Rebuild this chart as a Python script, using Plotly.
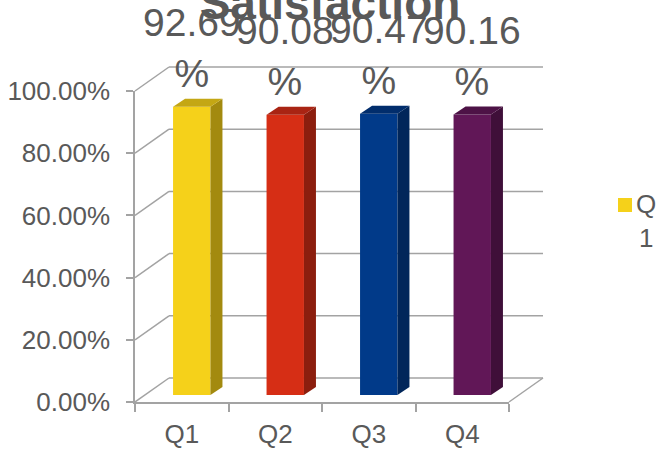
import plotly.graph_objects as go

# ---- data -------------------------------------------------------------
categories = ["Q1", "Q2", "Q3", "Q4"]
satisfaction = [92.69, 90.08, 90.47, 90.16]          # percent
y_ticks = [0, 20, 40, 60, 80, 100]
chart_title = "Satisfaction"
legend_label = "Q1"

# face colours of each column: front, right side, top
front_colors = ["#F5D11A", "#D62E15", "#013A89", "#611757"]
side_colors = ["#A38A0F", "#8C1E0E", "#01265A", "#3F0F39"]
top_colors = ["#C4A714", "#A92413", "#012D6C", "#4D1246"]

# ---- geometry of the pseudo-3D box (pixels) ----------------------------
W, H = 660, 449
FRONT_LEFT, FRONT_BOTTOM = 135, 402
PLANE_W, PLANE_H = 374, 311
BACK_DX, BACK_DY = 34, 24          # back wall offset from the front plane
BAR_DX, BAR_DY = 10, 7             # column front faces offset from the front plane
BAR_DEPTH_DX, BAR_DEPTH_DY = 12, 8 # column depth
BAR_WIDTH = 0.4

LINE = "#A3A3A3"
LINE_W = 1.5
TEXT = "#595959"
FONT = "Liberation Sans"

area_w = PLANE_W + BACK_DX
area_h = PLANE_H + BACK_DY
margin = dict(l=FRONT_LEFT, r=W - FRONT_LEFT - area_w,
              t=FRONT_BOTTOM - area_h, b=H - FRONT_BOTTOM, pad=0,
              autoexpand=False)


def dom(offset, span, total):
    return [offset / total, (offset + span) / total]


def px_x(px):
    return (px - FRONT_LEFT) / area_w


def px_y(py):
    return (FRONT_BOTTOM - py) / area_h


y_min, y_max = y_ticks[0], y_ticks[-1]
n = len(categories)
px_per_cat = PLANE_W / n
px_per_unit = PLANE_H / (y_max - y_min)


def y_frac(t):
    """position of value t along the value axis, as a fraction of its domain"""
    return (t - y_min) / (y_max - y_min)


fig = go.Figure()

# columns (front faces) on the x2/y2 plane
fig.add_trace(go.Bar(
    x=categories, y=satisfaction, xaxis="x2", yaxis="y2",
    width=BAR_WIDTH, marker=dict(color=front_colors, line=dict(width=0)),
    name=legend_label, showlegend=False, hoverinfo="skip",
))

shapes = []
wall = dict(color=LINE, width=LINE_W)
# lines spanning the whole box are measured from the column plane's domain,
# which keeps them unclipped and underneath the columns
box = dict(type="line", xref="x2 domain", yref="y2 domain",
           xsizemode="pixel", ysizemode="pixel", line=wall, layer="below")
to_back = (BACK_DX - BAR_DX, BACK_DY - BAR_DY)
to_front = (-BAR_DX, -BAR_DY)
for t in y_ticks:
    # back wall gridline
    shapes.append(dict(box, xanchor=0, yanchor=y_frac(t),
                       x0=to_back[0], x1=to_back[0] + PLANE_W,
                       y0=to_back[1], y1=to_back[1]))
    # left wall diagonal, from the front tick to the back wall
    if t + BACK_DY / px_per_unit <= y_max:
        shapes.append(dict(type="line", xref="x3", yref="y3",
                           xsizemode="pixel", ysizemode="pixel",
                           xanchor=-0.5, yanchor=t,
                           x0=0, y0=0, x1=BACK_DX, y1=BACK_DY,
                           line=wall, layer="below"))
    else:
        shapes.append(dict(box, xanchor=0, yanchor=y_frac(t),
                           x0=to_front[0], y0=to_front[1],
                           x1=to_back[0], y1=to_back[1]))
# floor: right edge
shapes.append(dict(box, xanchor=1, yanchor=y_frac(y_min),
                   x0=to_front[0], y0=to_front[1], x1=to_back[0], y1=to_back[1]))

# side and top faces of every column
ddx = BAR_DEPTH_DX / px_per_cat
ddy = BAR_DEPTH_DY / px_per_unit
for i, v in enumerate(satisfaction):
    xl, xr = i - BAR_WIDTH / 2, i + BAR_WIDTH / 2
    shapes.append(dict(
        type="path", xref="x2", yref="y2", layer="above", line=dict(width=0),
        fillcolor=side_colors[i],
        path=f"M{xr},0 L{xr + ddx},{ddy} L{xr + ddx},{v + ddy} L{xr},{v} Z"))
    shapes.append(dict(
        type="path", xref="x2", yref="y2", layer="above", line=dict(width=0),
        fillcolor=top_colors[i],
        path=f"M{xl},{v} L{xr},{v} L{xr + ddx},{v + ddy} L{xl + ddx},{v + ddy} Z"))

# legend key
shapes.append(dict(
    type="rect", xref="paper", yref="paper",
    x0=px_x(618), x1=px_x(632), y0=px_y(212), y1=px_y(198),
    fillcolor=front_colors[0], line=dict(width=0)))

annotations = []
for c, v in zip(categories, satisfaction):
    annotations.append(dict(
        x=c, y=v, xref="x2", yref="y2", xanchor="center", yanchor="bottom",
        yshift=10, showarrow=False, text=f"{v:.2f}<br>%",
        font=dict(family=FONT, size=39, color=TEXT)))

annotations.append(dict(
    x=px_x(634), y=px_y(187), xref="paper", yref="paper",
    xanchor="left", yanchor="top", align="center", showarrow=False,
    text="<br>".join([legend_label[:1], legend_label[1:]]),
    font=dict(family=FONT, size=26, color=TEXT)))

tick_font = dict(family=FONT, size=26, color=TEXT)

fig.update_layout(
    width=W, height=H, margin=margin,
    paper_bgcolor="white", plot_bgcolor="rgba(0,0,0,0)",
    showlegend=False,
    title=dict(text=chart_title, x=0.5, xref="container", xanchor="center",
               y=1 - 3 / H, yref="container", yanchor="middle", automargin=False,
               font=dict(family=FONT, size=46, color=TEXT, weight="bold")),
    # column plane
    xaxis2=dict(domain=dom(BAR_DX, PLANE_W, area_w), anchor="y2", type="category",
                range=[-0.5, n - 0.5], visible=False, automargin=False),
    yaxis2=dict(domain=dom(BAR_DY, PLANE_H, area_h), anchor="x2",
                range=[y_min, y_max], visible=False, automargin=False),
    # front plane with the labelled axes
    xaxis3=dict(domain=dom(0, PLANE_W, area_w), anchor="y3", type="category",
                matches="x2", showline=True, linecolor=LINE, linewidth=LINE_W,
                ticks="outside", tickson="boundaries", ticklen=8,
                tickcolor=LINE, tickwidth=LINE_W, tickfont=tick_font,
                ticklabelstandoff=8, showgrid=False, zeroline=False,
                automargin=False),
    yaxis3=dict(domain=dom(0, PLANE_H, area_h), anchor="x3", matches="y2",
                showline=True, linecolor=LINE, linewidth=LINE_W,
                ticks="outside", ticklen=7, tickcolor=LINE, tickwidth=LINE_W,
                tickmode="array", tickvals=y_ticks,
                ticktext=[f"{t:.2f}%" for t in y_ticks],
                tickfont=tick_font, ticklabelstandoff=11,
                showgrid=False, zeroline=False, automargin=False),
    shapes=shapes, annotations=annotations,
)

fig.write_html("out.html")
